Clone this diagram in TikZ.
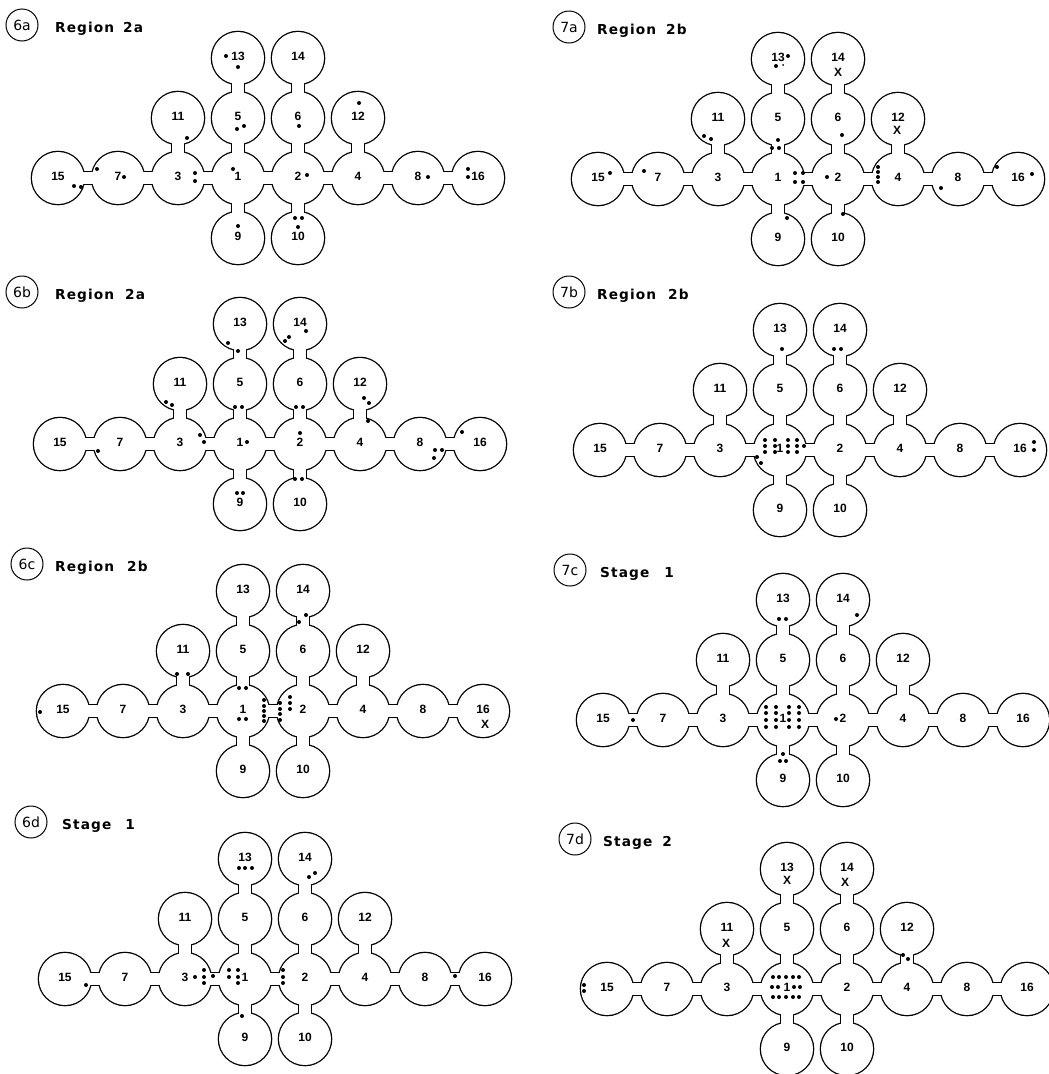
\documentclass[tikz,border=0pt]{standalone}
\usepackage{fontspec}
\newfontfamily\numfont{Liberation Sans}
\newfontfamily\titlefont[LetterSpace=8]{DejaVu Sans}
\newfontfamily\tagfont{DejaVu Sans}

\tikzset{
  wall/.style={line width=14.6pt},
  gap/.style={line width=12pt,white},
  room/.style={inner sep=0pt,yshift=2pt,font=\numfont\bfseries\fontsize{12}{12}\selectfont},
  xmark/.style={inner sep=0pt,font=\numfont\bfseries\fontsize{12}{12}\selectfont},
  tag/.style={circle,draw,line width=1pt,minimum size=32pt,inner sep=0pt,font=\tagfont\fontsize{14}{14}\selectfont},
  heading/.style={anchor=base west,inner sep=0pt,font=\titlefont\bfseries\fontsize{13.7}{16}\selectfont}
}

% the sixteen rooms, room 1 at the origin of the scope
\newcommand\maze[1]{%
  \foreach \k/\cx/\cy in {1/0/0,2/1/0,3/-1/0,4/2/0,5/0/-1,6/1/-1,7/-2/0,8/3/0,
      9/0/1,10/1/1,11/-1/-1,12/2/-1,13/0/-2,14/1/-2,15/-3/0,16/4/0}
    \coordinate (#1c\k) at ({60*(\cx)},{60*(\cy)});
  \foreach \a/\b in {15/7,7/3,3/1,1/2,2/4,4/8,8/16,13/5,5/1,1/9,14/6,6/2,2/10,11/3,12/4}
    \draw[wall] (#1c\a) -- (#1c\b);
  \foreach \k in {1,...,16} \fill (#1c\k) circle (27.3);
  \foreach \a/\b in {15/7,7/3,3/1,1/2,2/4,4/8,8/16,13/5,5/1,1/9,14/6,6/2,2/10,11/3,12/4}
    \draw[gap] (#1c\a) -- (#1c\b);
  \foreach \k in {1,...,16} \fill[white] (#1c\k) circle (26);
  \foreach \k in {1,...,16} \node[room] (#1\k) at (#1c\k) {\k};
}
\newcommand\pebbles[1]{\foreach \px/\py in {#1} \fill (\px,\py) circle (2);}

\begin{document}
\begin{tikzpicture}[x=1pt,y=-1pt]
\fill[white] (0,0) rectangle (1049,1074);
\useasboundingbox (0,0) rectangle (1049,1074);

% 6a
\node[tag] (t6a) at (22,25) {6a};
\node[heading] (h6a) at (55,32) {Region\hspace{9pt}2a};
\begin{scope}[shift={(238,178)}]
\maze{p6a}
\pebbles{-12/-122,0/-111,-1/-49,6/-52,61/-52,121/-75,-51/-40,-164/8,-157/9,-141/-9,
  -114/-1,-43/-5,-43/3,-5/-9,69/-3,190/-1,230/-9,230/-1,57/40,64/40,60/49,0/48}
\end{scope}

% 6b
\node[tag] (t6b) at (22,292) {6b};
\node[heading] (h6b) at (55,299) {Region\hspace{11pt}2a};
\begin{scope}[shift={(240,444)}]
\maze{p6b}
\pebbles{-12/-101,-2/-93,45/-103,49/-107,66/-113,-74/-42,-68/-39,-5/-37,2/-37,56/-37,63/-37,
  124/-46,129/-41,128/-23,-40/-9,-36/-2,7/-2,60/-11,-142/7,222/-12,195/6,202/6,194/14,
  55/35,62/35,-3/49,3/49}
\end{scope}

% 6c
\node[tag] (t6c) at (27,564) {6c};
\node[heading] (h6c) at (55,571) {Region\hspace{13pt}2b};
\begin{scope}[shift={(243,711)}]
\maze{p6c}
\pebbles{-203/1,-66/-37,-55/-37,63/-96,56/-89,-4/-23,3/-23,-4/8,3/8,
  21/-11,21/-5,21/0,21/5,21/10,37/-8,37/-2,37/3,37/9,47/-14,47/-8,47/-2}
\node[xmark] (p6cx) at (242,13) {X};
\end{scope}

% 6d
\node[tag] (t6d) at (31,822) {6d};
\node[heading] (h6d) at (62,829) {Stage\hspace{14pt}1};
\begin{scope}[shift={(245,979)}]
\maze{p6d}
\pebbles{-6/-111,0/-111,7/-111,64/-102,70/-106,-159/6,-50/-2,-41/-9,-41/-2,-41/4,-32/-3,
  -16/-9,-16/-2,-7/-9,-7/-2,-7/4,38/-9,38/-2,38/4,-3/37,210/-3}
\end{scope}

% 7a
\node[tag] (t7a) at (569,27) {7a};
\node[heading] (h7a) at (597,34) {Region\hspace{10pt}2b};
\begin{scope}[shift={(778,179)}]
\maze{p7a}
\pebbles{10/-123,-2/-113,-74/-43,-67/-40,0/-39,-6/-31,1/-31,64/-44,17/-6,25/-6,17/3,25/3,
  49/-2,100/-12,100/-7,100/-2,100/3,-168/-6,-134/-8,163/9,219/-12,254/-5,9/39,65/35}
\fill (5,-114) circle (1);
\node[xmark] (p7ax14) at (60,-107) {X};
\node[xmark] (p7ax12) at (119,-49) {X};
\end{scope}

% 7b
\node[tag] (t7b) at (569,292) {7b};
\node[heading] (h7b) at (597,299) {Region\hspace{12pt}2b};
\begin{scope}[shift={(780,450)}]
\maze{p7b}
\foreach \px in {-15,-5,8,17} \foreach \py in {-10,-4,2} \fill (\px,\py) circle (2);
\pebbles{2/-101,54/-101,61/-101,24/-4,-23/7,-19/13,254/-8,254/0}
\end{scope}

% 7c
\node[tag] (t7c) at (570,570) {7c};
\node[heading] (h7c) at (600,577) {Stage\hspace{15pt}1};
\begin{scope}[shift={(783,720)}]
\maze{p7c}
\foreach \px in {-17,-7,6,16} \foreach \py in {-13,-7,0,7} \fill (\px,\py) circle (2);
\pebbles{-4/-101,3/-101,74/-105,-150/0,53/-1,0/34,-3/41,3/41}
\end{scope}

% 7d
\node[tag] (t7d) at (575,839) {7d};
\node[heading] (h7d) at (603,846) {Stage\hspace{10pt}2};
\begin{scope}[shift={(787,989)}]
\maze{p7d}
\foreach \px in {-14,-8,-1,6,12} \foreach \py in {-12,8} \fill (\px,\py) circle (2);
\pebbles{-15/-2,-9/-2,7/-2,13/-2,116/-34,121/-30,-203/-4,-203/2}
\node[xmark] (p7dx13) at (0,-109) {X};
\node[xmark] (p7dx14) at (58,-107) {X};
\node[xmark] (p7dx11) at (-61,-46) {X};
\end{scope}

\end{tikzpicture}
\end{document}
